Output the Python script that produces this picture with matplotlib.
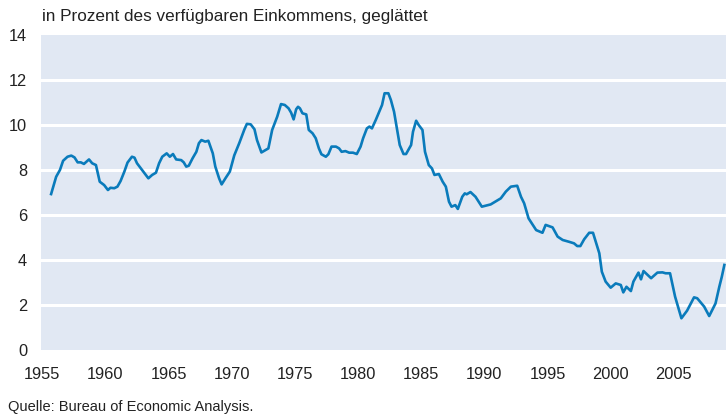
import matplotlib
matplotlib.use("Agg")
import matplotlib.pyplot as plt

# personal saving rate, smoothed
years = [1955.7, 1955.95, 1956.1, 1956.4, 1956.65, 1957.0, 1957.3, 1957.55, 1957.8, 1958.05,
         1958.3, 1958.7, 1958.95, 1959.25, 1959.55, 1959.9, 1960.2, 1960.4, 1960.7, 1960.95,
         1961.2, 1961.5, 1961.75, 1962.1, 1962.3, 1962.5, 1962.9, 1963.4, 1963.7, 1964.0,
         1964.25, 1964.5, 1964.85, 1965.1, 1965.35, 1965.6, 1966.0, 1966.2, 1966.4, 1966.6,
         1966.9, 1967.2, 1967.4, 1967.6, 1967.9, 1968.15, 1968.5, 1968.7, 1969.0, 1969.2,
         1969.5, 1969.85, 1970.2, 1970.6, 1971.0, 1971.2, 1971.5, 1971.8, 1972.0, 1972.35,
         1972.9, 1973.2, 1973.6, 1973.9, 1974.2, 1974.5, 1974.7, 1974.9, 1975.1, 1975.25,
         1975.4, 1975.6, 1975.9, 1976.1, 1976.4, 1976.65, 1976.9, 1977.1, 1977.45, 1977.65,
         1977.9, 1978.25, 1978.5, 1978.7, 1979.0, 1979.3, 1979.6, 1979.9, 1980.2, 1980.4,
         1980.7, 1980.9, 1981.1, 1981.4, 1981.7, 1981.9, 1982.1, 1982.4, 1982.6, 1982.85,
         1983.1, 1983.3, 1983.6, 1983.8, 1984.2, 1984.35, 1984.6, 1984.8, 1985.1, 1985.3,
         1985.6, 1985.85, 1986.05, 1986.4, 1986.7, 1986.95, 1987.2, 1987.4, 1987.7, 1987.9,
         1988.25, 1988.45, 1988.6, 1988.9, 1989.3, 1989.8, 1990.5, 1991.3, 1991.7, 1992.1,
         1992.6, 1992.9, 1993.15, 1993.5, 1994.1, 1994.6, 1994.85, 1995.4, 1995.8, 1996.2,
         1996.7, 1997.1, 1997.35, 1997.6, 1997.9, 1998.3, 1998.6, 1999.1, 1999.3, 1999.6,
         2000.0, 2000.4, 2000.8, 2001.0, 2001.25, 2001.6, 2001.8, 2002.2, 2002.4, 2002.6,
         2003.2, 2003.7, 2004.1, 2004.35, 2004.7, 2005.1, 2005.6, 2006.05, 2006.6, 2006.85,
         2007.4, 2007.8, 2008.3, 2008.6, 2008.8, 2009.0]
rate = [6.93, 7.41, 7.7, 8.0, 8.41, 8.59, 8.64, 8.56, 8.34, 8.34,
        8.27, 8.47, 8.3, 8.22, 7.48, 7.33, 7.11, 7.21, 7.19, 7.26,
        7.51, 7.93, 8.33, 8.59, 8.55, 8.3, 8.0, 7.63, 7.78, 7.88,
        8.3, 8.59, 8.74, 8.59, 8.71, 8.47, 8.44, 8.34, 8.15, 8.19,
        8.52, 8.81, 9.19, 9.33, 9.26, 9.3, 8.74, 8.15, 7.63, 7.36,
        7.63, 7.93, 8.65, 9.2, 9.8, 10.05, 10.03, 9.81, 9.33, 8.78,
        8.96, 9.78, 10.37, 10.93, 10.89, 10.74, 10.55, 10.25, 10.7, 10.81,
        10.74, 10.52, 10.47, 9.78, 9.63, 9.41, 8.96, 8.7, 8.59, 8.7,
        9.04, 9.04, 8.96, 8.81, 8.84, 8.77, 8.77, 8.71, 9.04, 9.41,
        9.85, 9.93, 9.85, 10.22, 10.62, 10.89, 11.41, 11.41, 11.11, 10.59,
        9.78, 9.11, 8.71, 8.71, 9.11, 9.7, 10.19, 10.0, 9.78, 8.81,
        8.22, 8.07, 7.78, 7.82, 7.48, 7.26, 6.59, 6.37, 6.44, 6.27,
        6.81, 6.96, 6.92, 7.02, 6.81, 6.37, 6.47, 6.74, 7.04, 7.26,
        7.3, 6.81, 6.52, 5.85, 5.33, 5.21, 5.56, 5.45, 5.04, 4.89,
        4.81, 4.74, 4.62, 4.62, 4.92, 5.21, 5.21, 4.3, 3.48, 3.04,
        2.77, 2.96, 2.89, 2.56, 2.81, 2.62, 3.04, 3.44, 3.14, 3.51,
        3.19, 3.44, 3.45, 3.41, 3.41, 2.37, 1.41, 1.75, 2.34, 2.3,
        1.93, 1.51, 2.07, 2.81, 3.26, 3.78]

xticks = list(range(1955, 2010, 5))
yticks = list(range(0, 16, 2))

plt.rcParams['font.family'] = ['Liberation Sans', 'DejaVu Sans']

fig = plt.figure(figsize=(7.26, 4.17), dpi=100)
ax = fig.add_axes([41/726, 1 - 350/417, 685/726, 315/417])
ax.set_facecolor('#e1e8f3')
for s in ax.spines.values():
    s.set_visible(False)

for v in yticks[1:-1]:
    ax.axhline(v, color='white', lw=2.2, zorder=1)

ax.plot(years, rate, color='#0a7bbb', lw=1.9, zorder=3, solid_joinstyle='round')

ax.set_xlim(1954.9, 2009.13)
ax.set_ylim(0, 14)
ax.set_xticks(xticks)
ax.set_yticks(yticks)
ax.tick_params(length=0, labelsize=11.8, colors='#222222')
ax.tick_params(axis='x', pad=12)
ax.tick_params(axis='y', pad=10)

fig.text(42/726, 1 - 17/417, 'in Prozent des verfügbaren Einkommens, geglättet',
         fontsize=12.3, color='#222222', va='center', ha='left')
fig.text(8/726, 1 - 407/417, 'Quelle: Bureau of Economic Analysis.',
         fontsize=10.5, color='#222222', va='center', ha='left')

plt.savefig('out.png', dpi=100)
